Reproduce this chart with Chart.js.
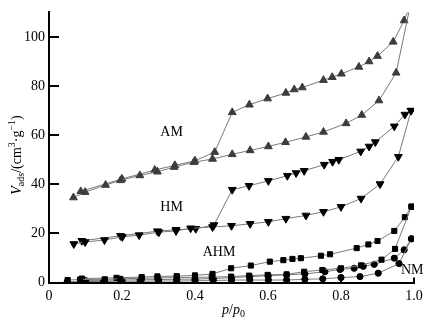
<!DOCTYPE html>
<html>
<head>
<meta charset="utf-8">
<script src="https://cdn.jsdelivr.net/npm/chart.js@4.4.0/dist/chart.umd.min.js"></script>
<style>
  html, body { margin: 0; padding: 0; background: #fff; }
  #chart { display: block; }
</style>
</head>
<body>
<canvas id="chart" width="438" height="322"></canvas>
<script>
// N2 isotherms: relative pressure p/p0 and adsorbed volume V (cm3/g)
const amAdsP = [0.067, 0.099, 0.155, 0.196, 0.249, 0.297, 0.343, 0.397, 0.448, 0.502, 0.551, 0.601, 0.648, 0.704, 0.752, 0.814, 0.857, 0.904, 0.951, 0.990];
const amAdsV = [34.6, 36.8, 39.7, 41.6, 43.6, 45.1, 47.0, 49.0, 50.3, 52.2, 53.8, 55.4, 57.1, 59.3, 61.3, 64.8, 68.2, 74.1, 85.4, 113];
const amDesP = [0.990, 0.973, 0.943, 0.900, 0.877, 0.849, 0.801, 0.776, 0.752, 0.694, 0.672, 0.649, 0.599, 0.549, 0.502, 0.454, 0.400, 0.345, 0.290, 0.200, 0.087];
const amDesV = [113, 106.7, 98.0, 92.2, 90.0, 87.8, 85.0, 83.6, 82.4, 79.4, 78.6, 77.2, 74.9, 72.4, 69.3, 53.1, 49.6, 47.7, 45.8, 42.2, 37.1];

const hmAdsP = [0.068, 0.099, 0.152, 0.201, 0.247, 0.301, 0.348, 0.388, 0.448, 0.500, 0.551, 0.601, 0.649, 0.704, 0.752, 0.800, 0.855, 0.907, 0.957, 0.992];
const hmAdsV = [15.7, 16.5, 17.3, 18.6, 19.3, 20.5, 21.0, 22.1, 22.6, 23.1, 23.9, 24.7, 26.0, 27.3, 28.8, 30.8, 34.2, 40.1, 51.2, 70.0];
const hmDesP = [0.992, 0.975, 0.946, 0.894, 0.877, 0.854, 0.794, 0.777, 0.754, 0.699, 0.677, 0.653, 0.601, 0.548, 0.502, 0.452, 0.402, 0.348, 0.297, 0.196, 0.090];
const hmDesV = [70.0, 68.4, 63.6, 57.2, 55.4, 53.4, 50.0, 49.2, 48.0, 45.5, 44.6, 43.5, 41.4, 39.4, 37.8, 23.4, 21.9, 21.5, 20.9, 19.0, 17.0];

const ahmAdsP = [0.051, 0.085, 0.153, 0.195, 0.254, 0.297, 0.350, 0.400, 0.446, 0.499, 0.548, 0.599, 0.651, 0.699, 0.749, 0.800, 0.855, 0.911, 0.948, 0.993];
const ahmAdsV = [1.0, 1.2, 1.3, 1.5, 1.7, 1.9, 2.0, 2.1, 2.2, 2.4, 2.8, 3.1, 3.3, 4.4, 5.1, 5.8, 7.0, 9.3, 13.7, 30.9];
const ahmDesP = [0.993, 0.975, 0.946, 0.900, 0.875, 0.843, 0.770, 0.745, 0.690, 0.667, 0.642, 0.605, 0.553, 0.499, 0.448, 0.400, 0.350, 0.297, 0.254, 0.185, 0.090];
const ahmDesV = [30.9, 26.6, 21.0, 16.9, 15.5, 14.0, 11.5, 10.9, 9.9, 9.6, 9.1, 8.5, 6.9, 5.8, 3.5, 2.9, 2.6, 2.5, 2.2, 1.9, 1.6];

const nmAdsP = [0.050, 0.100, 0.150, 0.200, 0.250, 0.300, 0.350, 0.400, 0.450, 0.500, 0.550, 0.601, 0.651, 0.701, 0.750, 0.800, 0.852, 0.902, 0.959, 0.993];
const nmAdsV = [0.3, 0.4, 0.4, 0.5, 0.5, 0.6, 0.6, 0.7, 0.8, 1.0, 1.0, 1.0, 1.0, 1.3, 1.5, 2.0, 2.4, 3.8, 7.7, 17.8];
const nmDesP = [0.993, 0.973, 0.946, 0.891, 0.861, 0.836, 0.797, 0.756, 0.701, 0.651, 0.601, 0.550, 0.500, 0.450, 0.400, 0.350, 0.300, 0.250, 0.200, 0.150, 0.100];
const nmDesV = [17.8, 13.3, 9.9, 7.4, 6.6, 5.8, 5.3, 4.4, 3.5, 3.1, 2.8, 2.4, 2.0, 1.6, 1.4, 1.3, 1.2, 1.1, 1.0, 0.9, 0.8];

const xTicks = [0, 0.2, 0.4, 0.6, 0.8, 1.0];
const yTicks = [0, 20, 40, 60, 80, 100];

const FONT = '"Liberation Serif", "Times New Roman", serif';
const LINE = '#7a7a7a';

const pts = (xs, ys) => xs.map((x, i) => ({ x, y: ys[i] }));

const series = (xs, ys, style) => ({
    data: pts(xs, ys),
    showLine: true,
    borderColor: LINE,
    borderWidth: 1,
    pointBackgroundColor: style.color,
    pointBorderColor: style.color,
    pointBorderWidth: 1,
    pointStyle: style.shape,
    pointRotation: style.rotation || 0,
    pointRadius: style.radius,
});

const amStyle = { color: '#3c3c3c', shape: 'triangle', radius: 4.5 };
const hmStyle = { color: '#000', shape: 'triangle', rotation: 180, radius: 4.5 };
const ahmStyle = { color: '#000', shape: 'rect', radius: 3.6 };
const nmStyle = { color: '#000', shape: 'circle', radius: 3.1 };

// draws a run of text pieces (normal / sub / sup) around the current origin
function richText(ctx, parts, align) {
    const widths = parts.map(p => { ctx.font = p.font; return ctx.measureText(p.t).width; });
    const total = widths.reduce((a, b) => a + b, 0);
    let cx = align === 'center' ? -total / 2 : 0;
    parts.forEach((p, i) => {
        ctx.font = p.font;
        ctx.fillText(p.t, cx, p.dy || 0);
        cx += widths[i];
    });
}

const decorations = {
    id: 'decorations',
    afterDraw(chart) {
        const { ctx, scales: { x, y }, chartArea: a } = chart;
        ctx.save();
        ctx.strokeStyle = '#000';
        ctx.lineWidth = 2;
        // inward tick marks
        yTicks.forEach(v => {
            const py = Math.round(y.getPixelForValue(v));
            ctx.beginPath(); ctx.moveTo(a.left, py); ctx.lineTo(a.left + 10, py); ctx.stroke();
        });
        xTicks.forEach(v => {
            const px = Math.round(x.getPixelForValue(v));
            ctx.beginPath(); ctx.moveTo(px, a.bottom); ctx.lineTo(px, a.bottom - 5); ctx.stroke();
        });

        ctx.fillStyle = '#000';
        ctx.textBaseline = 'middle';
        ctx.textAlign = 'center';
        ctx.font = '14px ' + FONT;
        // curve names
        ctx.fillText('AM', x.getPixelForValue(0.336), y.getPixelForValue(61.0));
        ctx.fillText('HM', x.getPixelForValue(0.336), y.getPixelForValue(30.8));
        ctx.fillText('AHM', x.getPixelForValue(0.466), y.getPixelForValue(12.2));
        ctx.fillText('NM', x.getPixelForValue(0.995), y.getPixelForValue(5.1));

        // axis titles
        ctx.textAlign = 'left';
        ctx.textBaseline = 'alphabetic';
        const it = 'italic 14px ' + FONT, rm = '14px ' + FONT, sm = '10px ' + FONT;
        ctx.save();
        ctx.translate((a.left + a.right) / 2 + 2, 314);
        richText(ctx, [
            { t: 'p', font: it }, { t: '/', font: rm }, { t: 'p', font: it }, { t: '0', font: sm, dy: 3 }
        ], 'center');
        ctx.restore();

        ctx.save();
        ctx.translate(21, 155);
        ctx.rotate(-Math.PI / 2);
        richText(ctx, [
            { t: 'V', font: it }, { t: 'ads', font: sm, dy: 3 }, { t: '/(cm', font: rm },
            { t: '3', font: sm, dy: -6 }, { t: '\u00b7g', font: rm }, { t: '\u22121', font: sm, dy: -6 }, { t: ')', font: rm }
        ], 'center');
        ctx.restore();
        ctx.restore();
    }
};

new Chart(document.getElementById('chart'), {
    type: 'scatter',
    data: {
        datasets: [
            series(amAdsP, amAdsV, amStyle),
            series(amDesP, amDesV, amStyle),
            series(hmAdsP, hmAdsV, hmStyle),
            series(hmDesP, hmDesV, hmStyle),
            series(ahmAdsP, ahmAdsV, ahmStyle),
            series(ahmDesP, ahmDesV, ahmStyle),
            series(nmAdsP, nmAdsV, nmStyle),
            series(nmDesP, nmDesV, nmStyle),
        ]
    },
    options: {
        responsive: false,
        animation: false,
        devicePixelRatio: 1,
        layout: { padding: { top: 12, right: 24, left: 0, bottom: 0 } },
        plugins: { legend: { display: false }, tooltip: { enabled: false } },
        scales: {
            x: {
                type: 'linear', min: 0, max: 1,
                afterBuildTicks: s => { s.ticks = xTicks.map(value => ({ value })); },
                afterFit: s => { s.height = 39.5; },
                grid: { display: false, drawTicks: false },
                border: { display: true, color: '#000', width: 2 },
                ticks: {
                    color: '#000', padding: 5, font: { family: FONT, size: 14 },
                    callback: v => v === 0 ? '0' : v.toFixed(1)
                }
            },
            y: {
                type: 'linear', min: 0, max: 110,
                afterBuildTicks: s => { s.ticks = yTicks.map(value => ({ value })); },
                afterFit: s => { s.width = 49; },
                grid: { display: false, drawTicks: false },
                border: { display: true, color: '#000', width: 2 },
                ticks: { color: '#000', padding: 4, font: { family: FONT, size: 14 } }
            }
        }
    },
    plugins: [decorations]
});
</script>
</body>
</html>
